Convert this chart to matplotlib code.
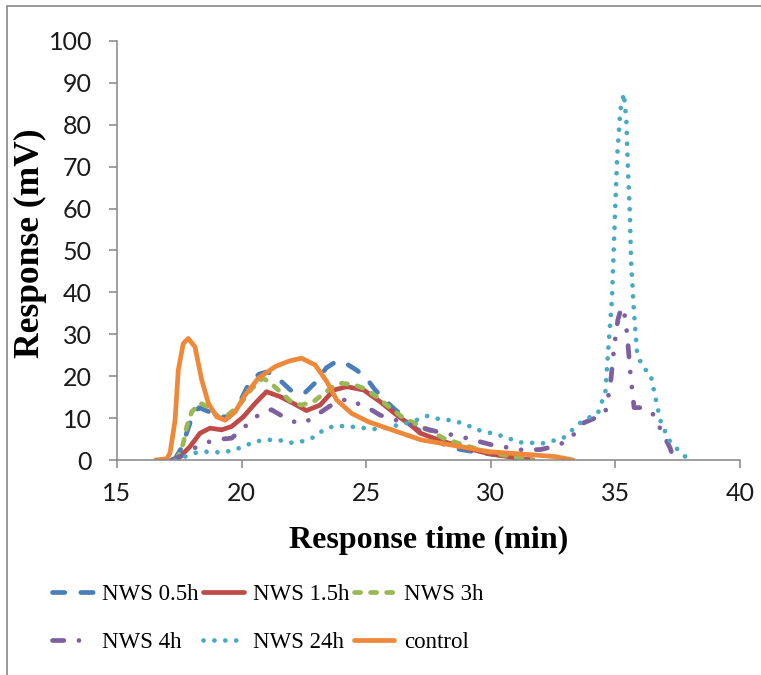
import matplotlib
matplotlib.use('Agg')
import matplotlib.pyplot as plt
from matplotlib.patches import Rectangle

# NWS 0.5h
t_05 = [17.3, 17.6, 17.86, 18.06, 18.3, 18.7, 19.1, 19.5, 19.9, 20.3, 20.7, 21.0, 21.3, 21.6, 22.0, 22.5,
        23.0, 23.4, 23.82, 24.2, 24.6, 24.96, 25.36, 26.03, 26.6, 27.0, 27.7, 28.4, 29.5, 30.5, 31.5]
v_05 = [0, 3.0, 7.6, 11.1, 12.5, 11.5, 10.3, 10.3, 13.5, 18.3, 20.5, 21.0, 20.5, 18.7, 16.5, 15.8,
        18.7, 22.0, 23.6, 23.0, 21.5, 19.9, 16.7, 12.7, 9.8, 7.5, 5.0, 2.9, 1.8, 1.0, 0]

# NWS 1.5h
t_15 = [17.2, 17.46, 17.93, 18.33, 18.73, 19.2, 19.6, 20.07, 20.54, 21.0, 21.55, 22.08, 22.6, 23.15, 23.7,
        24.22, 24.9, 25.56, 26.23, 26.77, 27.17, 28.0, 28.9, 29.86, 31.0, 31.7]
v_15 = [0, 0.4, 3.2, 6.4, 7.6, 7.2, 8.0, 10.3, 13.5, 16.3, 15.1, 13.5, 11.8, 13.1, 16.7,
        17.5, 16.7, 13.9, 10.7, 8.4, 6.4, 4.6, 3.0, 1.6, 0.5, 0]

# NWS 3h
t_3 = [17.4, 17.66, 17.8, 18.0, 18.33, 18.7, 19.06, 19.4, 19.9, 20.4, 20.85, 21.1, 21.55, 22.0, 22.4, 22.9,
       23.3, 23.7, 24.0, 24.5, 24.9, 25.4, 25.83, 26.5, 27.5, 28.1, 28.9, 29.7, 30.7, 31.67]
v_3 = [0, 4.0, 8.0, 11.5, 13.6, 12.5, 10.3, 10.5, 13.0, 17.0, 19.5, 18.7, 16.3, 13.8, 13.1, 14.0,
       15.9, 17.6, 18.3, 18.0, 17.1, 15.2, 13.1, 10.0, 7.2, 5.2, 3.6, 2.2, 1.0, 0]

# NWS 4h
t_4 = [17.2, 17.6, 18.0, 18.4, 18.73, 19.2, 19.6, 20.14, 20.5, 20.88, 21.2, 21.68, 22.0, 22.4, 22.8, 23.2,
       23.7, 24.1, 24.4, 24.76, 25.2, 25.56, 26.2, 26.97, 28.04, 28.78, 30.05, 31.25, 32.0, 32.5, 33.0,
       33.4, 33.7, 34.3, 34.6, 34.8, 34.95, 35.1, 35.25, 35.4, 35.5, 35.6, 35.75, 36.1, 36.5, 36.8,
       37.2, 37.35]
v_4 = [0, 1.0, 2.5, 3.8, 4.4, 5.0, 5.2, 8.0, 10.0, 11.5, 12.0, 10.3, 9.3, 8.7, 9.8, 11.5,
       13.5, 14.3, 14.5, 13.1, 12.0, 10.7, 9.5, 8.0, 6.5, 5.6, 3.6, 2.4, 2.5, 3.2, 4.3,
       6.5, 8.8, 10.3, 11.5, 18, 27, 33.5, 36.5, 34, 28, 20.7, 12.5, 12.5, 11, 7.5,
       2.8, 0]

# NWS 24h
t_24 = [17.33, 17.73, 18.2, 18.67, 19.14, 19.6, 20.07, 20.54, 21.0, 21.47, 21.95, 22.4, 22.88, 23.3, 23.7,
        24.16, 24.63, 25.1, 25.56, 26.0, 26.5, 27.0, 27.44, 27.9, 28.5, 29.0, 29.4, 30.3, 31.2, 32.1,
        32.9, 33.67, 34.3, 34.6, 34.72, 34.86, 34.93, 35.0, 35.07, 35.2, 35.34, 35.44, 35.5, 35.58,
        35.63, 35.74, 35.87, 36.1, 36.4, 36.6, 36.8, 37.14, 37.5, 37.95]
v_24 = [0, 0.8, 1.8, 2.0, 1.8, 2.2, 3.2, 4.4, 4.8, 4.8, 4.1, 4.4, 5.4, 7.2, 8.1,
        8.1, 7.8, 7.5, 7.3, 8.0, 8.6, 9.5, 10.5, 9.8, 9.4, 8.5, 7.3, 6.0, 4.2, 4.0,
        5.2, 9.3, 11.2, 16.3, 27, 38.2, 49.7, 61.3, 72.4, 83.5, 87.5, 81, 70, 58.9,
        47.3, 35.8, 25.5, 22, 20.7, 15.1, 9.5, 4.8, 2.5, 0]

# control
t_c = [16.55, 17.0, 17.13, 17.33, 17.46, 17.66, 17.86, 18.13, 18.4, 18.67, 19.0, 19.34, 19.74, 20.14, 20.67,
       21.35, 21.9, 22.4, 22.95, 23.42, 23.82, 24.42, 25.1, 26.03, 27.2, 28.4, 29.9, 31.5, 32.6, 33.3]
v_c = [0, 0.3, 1.7, 9.5, 21.5, 27.8, 29, 27, 19.1, 13.5, 10.3, 9.5, 11.5, 15.5, 19.5,
       22.3, 23.6, 24.3, 22.7, 18.7, 14.3, 11.1, 9.1, 7.2, 4.8, 3.6, 2.0, 1.3, 0.8, 0]

fig = plt.figure(figsize=(7.61, 6.75), dpi=100)
ax = fig.add_axes([117/761, 1-460/675, (740-117)/761, (460-41)/675])

lw = 3.4
kw = dict(lw=lw, solid_joinstyle='round', dash_joinstyle='round', dash_capstyle='round', solid_capstyle='round')
l05, = ax.plot(t_05, v_05, color='#4a7ebb', ls=(0, (2.6, 3.4)), label='NWS 0.5h', **kw)
l15, = ax.plot(t_15, v_15, color='#be4b48', label='NWS 1.5h', **kw)
l3, = ax.plot(t_3, v_3, color='#98b954', ls=(0, (1.3, 2.1)), label='NWS 3h', **kw)
l4, = ax.plot(t_4, v_4, color='#7d60a0', ls=(0, (2.4, 3.2, 0.01, 3.2, 0.01, 3.2)), label='NWS 4h', **kw)
l24, = ax.plot(t_24, v_24, color='#46aac5', ls=(0, (0.01, 2.3)), label='NWS 24h', **kw)
lc, = ax.plot(t_c, v_c, color='#f0883a', label='control', **kw)

ax.set_xlim(15, 40)
ax.set_ylim(0, 100)
ax.set_xticks([15, 20, 25, 30, 35, 40])
ax.set_yticks(range(0, 101, 10))
for s in ['top', 'right']:
    ax.spines[s].set_visible(False)
for s in ['left', 'bottom']:
    ax.spines[s].set_color('#868686')
    ax.spines[s].set_linewidth(1.1)
ax.tick_params(axis='both', direction='out', length=6, width=1.1, color='#868686',
               labelsize=18, labelcolor='#1a1a1a', pad=10)
ax.tick_params(axis='y', pad=12)
for lab in ax.get_xticklabels() + ax.get_yticklabels():
    lab.set_family('Lato')

ax.set_xlabel('Response time (min)', fontfamily='Liberation Serif', fontweight='bold', fontsize=23, labelpad=15)
ax.set_ylabel('Response (mV)', fontfamily='Liberation Serif', fontweight='bold', fontsize=25.5)
ax.yaxis.set_label_coords(-0.112, 0.518)

handles = [l05, l4, l15, l24, l3, lc]
fig.legend(handles, [h.get_label() for h in handles], ncol=3, loc='upper left',
           bbox_to_anchor=(41/761, 1-573/675), frameon=False,
           prop={'family': 'Liberation Serif', 'size': 16.5},
           handlelength=1.75, handletextpad=0.42, columnspacing=0.2, labelspacing=1.15, borderpad=0)

fig.add_artist(Rectangle((7/761, -0.1), 1.2, 1.1 - 6/675, transform=fig.transFigure,
                         fill=False, edgecolor='#888888', lw=1.2))

fig.savefig('out.png', dpi=100)
